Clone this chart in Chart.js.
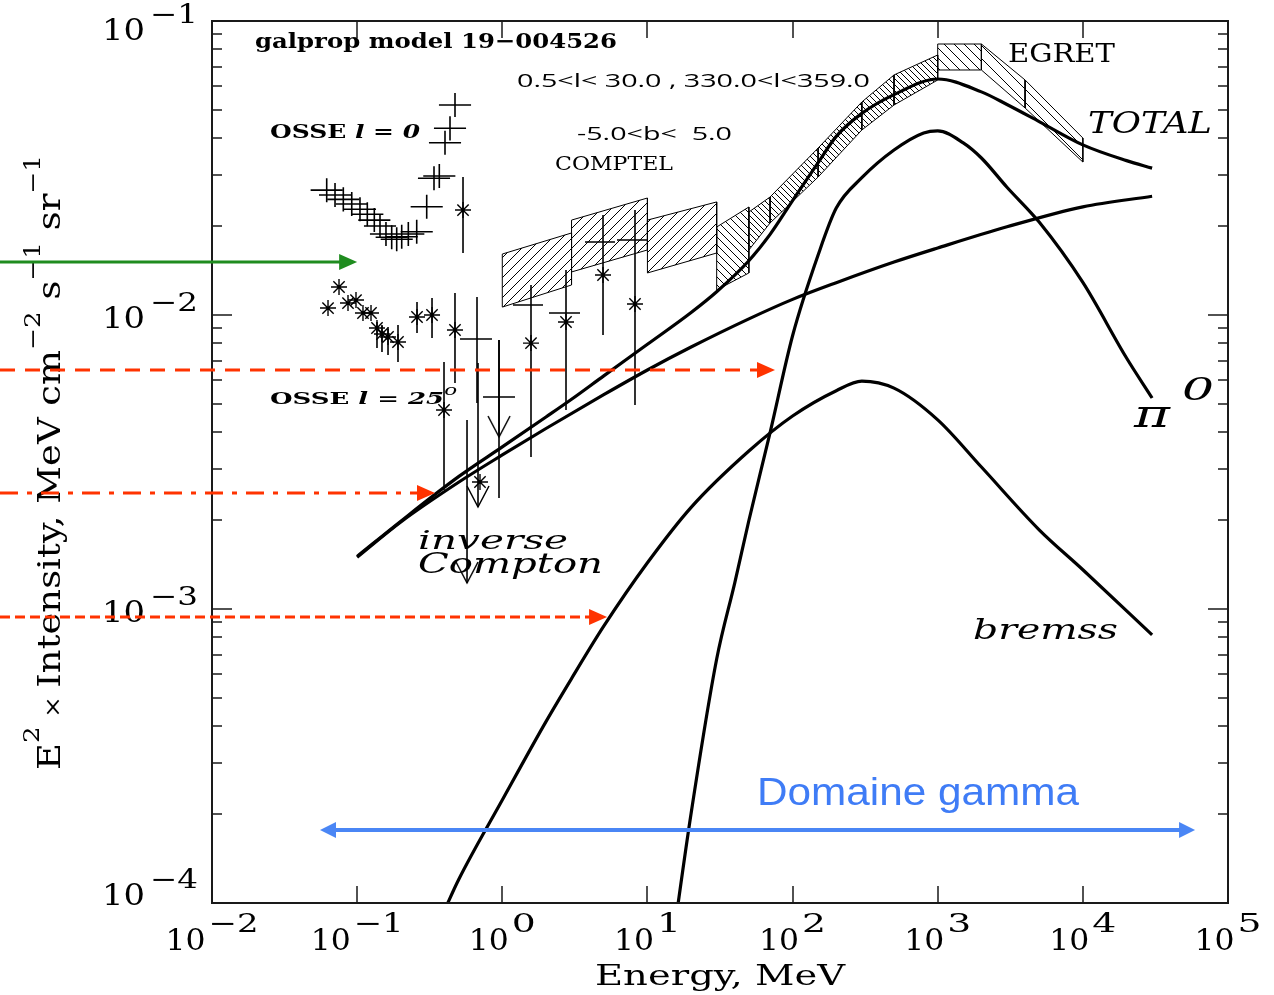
<!DOCTYPE html>
<html>
<head>
<meta charset="utf-8">
<script src="https://cdn.jsdelivr.net/npm/chart.js@4.4.1/dist/chart.umd.min.js"></script>
<style>
  html, body { margin: 0; padding: 0; background: #fff; overflow: hidden; }
  canvas { display: block; }
</style>
</head>
<body>
<canvas id="c" width="1274" height="995"></canvas>
<script>
// Energies in MeV, fluxes as E^2 x intensity in MeV cm^-2 s^-1 sr^-1.

// ---- galprop model components ----
const totalE = [0.1, 0.2, 0.5, 1, 2, 3, 5, 10, 20, 30, 50, 70, 100, 150, 200, 300, 500, 1000, 2000, 3000, 5000, 10000, 20000, 30000];
const totalI = [1.51e-3, 1.99e-3, 2.82e-3, 3.56e-3, 4.5e-3, 5.17e-3, 6.21e-3, 7.95e-3, 1.02e-2, 1.2e-2, 1.53e-2, 1.88e-2, 2.45e-2, 3.3e-2, 4.05e-2, 4.85e-2, 5.62e-2, 6.35e-2, 5.74e-2, 5.2e-2, 4.55e-2, 3.79e-2, 3.35e-2, 3.16e-2];

const icE = [0.1, 0.2, 0.5, 1, 2, 5, 10, 20, 50, 100, 200, 500, 1000, 3000, 10000, 30000];
const icI = [1.5e-3, 1.977e-3, 2.698e-3, 3.342e-3, 4.111e-3, 5.358e-3, 6.501e-3, 7.78e-3, 9.7e-3, 1.13e-2, 1.288e-2, 1.514e-2, 1.69e-2, 1.995e-2, 2.333e-2, 2.535e-2];

const pi0E = [15, 20, 30, 40, 50, 70, 100, 150, 200, 300, 500, 800, 1000, 1500, 2000, 3000, 5000, 10000, 20000, 30000];
const pi0I = [7.5e-5, 2.02e-4, 6.76e-4, 1.23e-3, 2.0e-3, 3.98e-3, 8.5e-3, 1.6e-2, 2.31e-2, 2.93e-2, 3.64e-2, 4.16e-2, 4.23e-2, 3.85e-2, 3.42e-2, 2.72e-2, 2.07e-2, 1.29e-2, 7.14e-3, 5.22e-3];

const bremE = [0.4, 0.5, 1, 2, 3, 5, 10, 20, 50, 100, 200, 300, 500, 1000, 2000, 5000, 10000, 30000];
const bremI = [9.46e-5, 1.2e-4, 2.24e-4, 4.14e-4, 5.8e-4, 8.74e-4, 1.436e-3, 2.217e-3, 3.447e-3, 4.534e-3, 5.527e-3, 5.96e-3, 5.64e-3, 4.4e-3, 3.04e-3, 1.86e-3, 1.36e-3, 8.17e-4];

// ---- OSSE l = 0 spectrum (crosses: energy bin and flux error) ----
const osse0E   = [0.0617, 0.0704, 0.0803, 0.0918, 0.1046, 0.1175, 0.1313, 0.1437, 0.158, 0.173, 0.1873, 0.2028, 0.2252, 0.2573, 0.3015, 0.3385, 0.3682, 0.403, 0.4363, 0.4723];
const osse0ELo = [0.0478, 0.0546, 0.0622, 0.0712, 0.0811, 0.0911, 0.1018, 0.1114, 0.1225, 0.1341, 0.1452, 0.1572, 0.1746, 0.1995, 0.2337, 0.2624, 0.2854, 0.3124, 0.3382, 0.3661];
const osse0EHi = [0.0796, 0.0908, 0.1036, 0.1184, 0.1349, 0.1516, 0.1694, 0.1854, 0.2038, 0.2232, 0.2416, 0.2616, 0.2905, 0.3319, 0.3889, 0.4367, 0.475, 0.5199, 0.5628, 0.6093];
const osse0I   = [0.0266, 0.0256, 0.02474, 0.02385, 0.02288, 0.02201, 0.02103, 0.02008, 0.01886, 0.01838, 0.01809, 0.01846, 0.01886, 0.0192, 0.02335, 0.02917, 0.02971, 0.03855, 0.04315, 0.05179];
const osse0ILo = [0.0242, 0.0233, 0.02251, 0.0217, 0.02082, 0.02003, 0.01914, 0.01827, 0.01716, 0.01672, 0.01646, 0.0168, 0.01716, 0.01747, 0.02125, 0.02654, 0.02703, 0.03508, 0.03926, 0.04713];
const osse0IHi = [0.0292, 0.0281, 0.02719, 0.02621, 0.02514, 0.02419, 0.02311, 0.02207, 0.02073, 0.0202, 0.01988, 0.02029, 0.02073, 0.0211, 0.02566, 0.03206, 0.03265, 0.04237, 0.04742, 0.05692];

// ---- OSSE l = 25 and COMPTEL-range points (asterisks with flux errors) ----
const starE   = [0.075, 0.063, 0.0865, 0.0982, 0.1097, 0.1246, 0.137, 0.1483, 0.1632, 0.1912, 0.2585, 0.328, 0.4722, 0.3967, 0.5363, 0.7022, 1.577, 2.748, 4.943, 8.21];
const starI   = [0.01245, 0.01056, 0.01098, 0.01124, 0.01016, 0.01016, 0.009033, 0.008618, 0.008418, 0.008094, 0.009845, 0.01, 0.008892, 0.004752, 0.02275, 0.002704, 0.008026, 0.009467, 0.01368, 0.0109];
const starILo = [0.01245, 0.01056, 0.01098, 0.01124, 0.01016, 0.01016, 0.007722, 0.007482, 0.007311, 0.006921, 0.008685, 0.008353, 0.005872, 0.00254, 0.01625, 0.002704, 0.003289, 0.004752, 0.008551, 0.004942];
const starIHi = [0.01245, 0.01056, 0.01098, 0.01124, 0.01016, 0.01016, 0.009467, 0.009248, 0.009103, 0.009248, 0.01107, 0.01142, 0.01188, 0.006921, 0.02946, 0.002704, 0.01265, 0.01422, 0.02188, 0.02275];

// ---- binned points (crosses) ----
const crossE   = [0.6696, 0.9493, 1.528, 2.748, 4.943, 7.956];
const crossELo = [0.5114, 0.7366, 1.185, 2.098, 3.714, 6.17];
const crossEHi = [0.8494, 1.2232, 1.909, 3.432, 5.977, 9.93];
const crossI   = [0.008285, 0.005262, 0.01081, 0.01016, 0.01771, 0.01799];
const crossILo = [0.005021, 0.002385, 0.01081, 0.01016, 0.01771, 0.01799];
const crossIHi = [0.01151, 0.008222, 0.01081, 0.01016, 0.01771, 0.01799];

// ---- upper limits ----
const ulE   = [0.5715, 0.6803, 0.9493];
const ulTop = [0.004394, 0.006867, 0.008222];
const ulTip = [0.001226, 0.002223, 0.003846];

// ---- COMPTEL / EGRET flux bands (hatched boxes) ----
const bandELo  = [1, 3, 10, 30, 50, 70, 150, 300, 500, 1000, 2000, 4000];
const bandEHi  = [3, 10, 30, 50, 70, 150, 300, 500, 1000, 2000, 4000, 10000];
const bandTopL = [0.01612, 0.02103, 0.02103, 0.01992, 0.0224, 0.0252, 0.03698, 0.05302, 0.06553, 0.08351, 0.08351, 0.063];
const bandTopR = [0.01901, 0.025, 0.02424, 0.0233, 0.0252, 0.03698, 0.05302, 0.06553, 0.07663, 0.08351, 0.063, 0.04];
const bandBotL = [0.01064, 0.01401, 0.0139, 0.01217, 0.01664, 0.02056, 0.02947, 0.04258, 0.05179, 0.06813, 0.06813, 0.05059];
const bandBotR = [0.01265, 0.01664, 0.01625, 0.0139, 0.02056, 0.02947, 0.04258, 0.05179, 0.063, 0.06813, 0.05059, 0.03314];
// hatch direction and spacing per band (style only)
const bandHatch = ['/', '/', '/', '\\', '\\', '\\', '\\', '\\', '\\', '\\', '\\', '\\'];
const bandStep  = [10, 10, 10, 8, 6, 6, 6, 6, 6, 10, 13, 13];

// ---- pointer arrows (flux level, energy at arrow tip) ----
const arrowLevel = [0.01515, 0.0065, 0.00248, 0.000939];
const arrowTipE  = [0.1, 75.7, 0.344, 5.27];
const gammaLevel = 1.77e-4;
const gammaRange = [0.0555, 59300];

// ---- axis decades ----
const xTickExp = [-2, -1, 0, 1, 2, 3, 4, 5];
const yTickExp = [-4, -3, -2, -1];

const canvas = document.getElementById('c');
const ctx0 = canvas.getContext('2d');

function hatch(dir, s) {
  const c = document.createElement('canvas');
  c.width = s; c.height = s;
  const g = c.getContext('2d');
  g.strokeStyle = '#000';
  g.lineWidth = 1;
  g.beginPath();
  if (dir === '/') {
    g.moveTo(0, s); g.lineTo(s, 0);
    g.moveTo(-2, 2); g.lineTo(2, -2);
    g.moveTo(s - 2, s + 2); g.lineTo(s + 2, s - 2);
  } else {
    g.moveTo(0, 0); g.lineTo(s, s);
    g.moveTo(s - 2, -2); g.lineTo(s + 2, 2);
    g.moveTo(-2, s - 2); g.lineTo(2, s + 2);
  }
  g.stroke();
  return ctx0.createPattern(c, 'repeat');
}

function vMarker() {
  const c = document.createElement('canvas');
  c.width = 26; c.height = 46;
  const g = c.getContext('2d');
  g.strokeStyle = '#000';
  g.lineWidth = 1.5;
  g.beginPath();
  g.moveTo(2, 2); g.lineTo(13, 23); g.lineTo(24, 2);
  g.stroke();
  return c;
}

const pts = (E, I) => E.map((e, i) => ({ x: e, y: I[i] }));
function vbars(E, lo, hi) {
  const d = [];
  E.forEach((e, i) => { d.push({ x: e, y: lo[i] }, { x: e, y: hi[i] }, { x: e, y: null }); });
  return d;
}
function hbars(lo, hi, I) {
  const d = [];
  lo.forEach((e, i) => { d.push({ x: e, y: I[i] }, { x: hi[i], y: I[i] }, { x: hi[i], y: null }); });
  return d;
}

const datasets = [];

bandELo.forEach((lo, i) => {
  datasets.push({
    data: [
      { x: lo, y: bandBotL[i] }, { x: lo, y: bandTopL[i] },
      { x: bandEHi[i], y: bandTopR[i] }, { x: bandEHi[i], y: bandBotR[i] },
      { x: lo, y: bandBotL[i] }
    ],
    borderColor: '#000', borderWidth: 1,
    backgroundColor: hatch(bandHatch[i], bandStep[i]),
    fill: 'shape', pointRadius: 0, tension: 0, order: 10
  });
});

const barStyle = { borderColor: '#000', borderWidth: 1.6, pointRadius: 0, fill: false, tension: 0, spanGaps: false, order: 5 };
datasets.push({ ...barStyle, data: vbars(osse0E, osse0ILo, osse0IHi) });
datasets.push({ ...barStyle, data: hbars(osse0ELo, osse0EHi, osse0I) });
datasets.push({ ...barStyle, data: vbars(starE, starILo, starIHi) });
datasets.push({ ...barStyle, data: vbars(crossE, crossILo, crossIHi) });
datasets.push({ ...barStyle, data: hbars(crossELo, crossEHi, crossI) });
datasets.push({ ...barStyle, data: vbars(ulE, ulTip, ulTop) });

datasets.push({
  data: pts(starE, starI), showLine: false, pointStyle: 'star', pointRadius: 8,
  pointBorderColor: '#000', pointBackgroundColor: '#000', pointBorderWidth: 1.4, order: 4
});
datasets.push({
  data: pts(ulE, ulTip), showLine: false, pointStyle: vMarker(), pointRadius: 10, order: 4
});

[[totalE, totalI], [icE, icI], [pi0E, pi0I], [bremE, bremI]].forEach(([E, I]) => {
  datasets.push({
    data: pts(E, I), borderColor: '#000', borderWidth: 3.2, pointRadius: 0,
    fill: false, cubicInterpolationMode: 'monotone', order: 1
  });
});

// ---- text helpers ----
function rich(ctx, runs, x, y, w) {
  ctx.save();
  let total = 0;
  runs.forEach(r => { ctx.font = r.font; r.w = ctx.measureText(r.t).width; total += r.w; });
  const sx = w ? w / total : 1;
  ctx.translate(x, y);
  ctx.scale(sx, 1);
  ctx.textBaseline = 'alphabetic';
  ctx.textAlign = 'left';
  let cx = 0;
  runs.forEach(r => {
    ctx.font = r.font;
    ctx.fillStyle = r.color || ctx.fillStyle;
    ctx.fillText(r.t, cx, -(r.dy || 0));
    cx += r.w;
  });
  ctx.restore();
}

function arrow(ctx, x0, x1, y, color, dash, lw, hl, hw, both) {
  ctx.save();
  ctx.strokeStyle = color; ctx.fillStyle = color; ctx.lineWidth = lw;
  ctx.setLineDash(dash);
  ctx.beginPath();
  ctx.moveTo(both ? x0 + hl - 2 : x0, y);
  ctx.lineTo(x1 - hl + 2, y);
  ctx.stroke();
  ctx.setLineDash([]);
  ctx.beginPath();
  ctx.moveTo(x1, y); ctx.lineTo(x1 - hl, y - hw); ctx.lineTo(x1 - hl, y + hw); ctx.closePath();
  ctx.fill();
  if (both) {
    ctx.beginPath();
    ctx.moveTo(x0, y); ctx.lineTo(x0 + hl, y - hw); ctx.lineTo(x0 + hl, y + hw); ctx.closePath();
    ctx.fill();
  }
  ctx.restore();
}

const SERIF = '"DejaVu Serif", "Liberation Serif", serif';
const THIN = '"Open Sans", "Lato", "DejaVu Sans", sans-serif';
const yLabelShift = { '-1': 19, '-2': 13, '-3': 13, '-4': 2 };

const notes = [
  { x: 255, y: 48, w: 362, runs: [{ t: 'galprop model 19\u2212004526', font: 'bold 21px ' + SERIF }] },
  { x: 517, y: 87, w: 353, runs: [{ t: '0.5<l< 30.0 , 330.0<l<359.0', font: '19px ' + THIN }] },
  { x: 577, y: 140, w: 155, runs: [{ t: '-5.0<b<  5.0', font: '19px ' + THIN }] },
  { x: 555, y: 170, w: 118, runs: [{ t: 'COMPTEL', font: '18px ' + SERIF }] },
  { x: 270, y: 138, w: 150, runs: [
      { t: 'OSSE ', font: 'bold 18px ' + SERIF }, { t: 'l', font: 'italic bold 18px ' + SERIF },
      { t: ' = ', font: 'bold 18px ' + SERIF }, { t: '0', font: 'italic bold 18px ' + SERIF }] },
  { x: 270, y: 404, w: 187, runs: [
      { t: 'OSSE ', font: 'bold 17px ' + SERIF }, { t: 'l', font: 'italic bold 17px ' + SERIF },
      { t: ' = ', font: 'bold 17px ' + SERIF }, { t: '25', font: 'italic bold 17px ' + SERIF },
      { t: 'o', font: 'italic 14px ' + SERIF, dy: 9 }] },
  { x: 1008, y: 62, w: 107, runs: [{ t: 'EGRET', font: '26px ' + SERIF }] },
  { x: 1088, y: 133, w: 124, runs: [{ t: 'TOTAL', font: 'italic 29px ' + SERIF }] },
  { x: 1134, y: 427, w: 36, runs: [{ t: '\u03c0', font: 'italic 40px ' + SERIF }] },
  { x: 1182, y: 400, w: 32, runs: [{ t: '0', font: 'italic 32px ' + SERIF }] },
  { x: 418, y: 549, w: 150, runs: [{ t: 'inverse', font: 'italic 26px ' + SERIF }] },
  { x: 418, y: 573, w: 185, runs: [{ t: 'Compton', font: 'italic 27px ' + SERIF }] },
  { x: 973, y: 639, w: 145, runs: [{ t: 'bremss', font: 'italic 28px ' + SERIF }] },
  { x: 757, y: 805, w: 322, runs: [{ t: 'Domaine gamma', font: '38px "Liberation Sans", Arial, sans-serif', color: '#3f7cf6' }] }
];

const framePlugin = {
  id: 'frame',
  afterDraw(chart) {
    const ctx = chart.ctx;
    const a = chart.chartArea;
    const xs = chart.scales.x, ys = chart.scales.y;
    ctx.save();

    // frame and ticks
    ctx.strokeStyle = '#1a1a1a';
    ctx.lineWidth = 2;
    ctx.strokeRect(a.left, a.top, a.right - a.left, a.bottom - a.top);
    ctx.lineWidth = 1.5;
    ctx.beginPath();
    xTickExp.forEach(e => {
      const px = Math.round(xs.getPixelForValue(Math.pow(10, e)));
      ctx.moveTo(px, a.bottom); ctx.lineTo(px, a.bottom - 17);
      ctx.moveTo(px, a.top); ctx.lineTo(px, a.top + 17);
    });
    yTickExp.forEach((e, j) => {
      const last = j === yTickExp.length - 1;
      for (let k = 1; k <= (last ? 1 : 9); k++) {
        const py = Math.round(ys.getPixelForValue(k * Math.pow(10, e)));
        const len = k === 1 ? 20 : 10;
        ctx.moveTo(a.left, py); ctx.lineTo(a.left + len, py);
        ctx.moveTo(a.right, py); ctx.lineTo(a.right - len, py);
      }
    });
    ctx.stroke();

    // tick labels
    ctx.fillStyle = '#000';
    xTickExp.forEach(e => {
      const px = xs.getPixelForValue(Math.pow(10, e));
      const ex = e < 0 ? '\u2212' + (-e) : String(e);
      const ew = e < 0 ? 50 : 24;
      const total = 40 + 3 + ew;
      const left = px - total / 2;
      rich(ctx, [{ t: '10', font: '29px ' + SERIF }], left, 950, 40);
      rich(ctx, [{ t: ex, font: '26px ' + SERIF }], left + 43, 932, ew);
    });
    yTickExp.forEach(e => {
      const py = ys.getPixelForValue(Math.pow(10, e));
      const base = py + yLabelShift[String(e)];
      rich(ctx, [{ t: '10', font: '29px ' + SERIF }], 102, base, 43);
      rich(ctx, [{ t: '\u2212' + (-e), font: '26px ' + SERIF }], 150, base - 17, 48);
    });

    // axis titles
    rich(ctx, [{ t: 'Energy, MeV', font: '27px ' + SERIF }], 595, 985, 250);
    ctx.save();
    ctx.translate(60, 770);
    ctx.rotate(-Math.PI / 2);
    const F = '31px ' + SERIF, S = '22px ' + SERIF;
    rich(ctx, [
      { t: 'E', font: F }, { t: '2', font: S, dy: 21 }, { t: ' \u00d7 ', font: '22px ' + SERIF },
      { t: 'Intensity, MeV cm', font: F }, { t: '\u22122', font: S, dy: 20 },
      { t: ' s', font: F }, { t: '\u22121', font: S, dy: 20 },
      { t: ' sr', font: F }, { t: '\u22121', font: S, dy: 20 }
    ], 0, 0, 615);
    ctx.restore();

    // annotations inside the frame
    notes.forEach(n => { ctx.fillStyle = '#000'; rich(ctx, n.runs, n.x, n.y, n.w); });

    // pointer arrows
    const red = '#ff3300';
    const styles = [
      { color: '#1f8c1f', dash: [] },
      { color: red, dash: [15, 10] },
      { color: red, dash: [18, 9, 5, 9] },
      { color: red, dash: [10, 5] }
    ];
    arrowLevel.forEach((lv, i) => {
      const py = Math.round(ys.getPixelForValue(lv));
      const px = xs.getPixelForValue(arrowTipE[i]);
      arrow(ctx, 0, px, py, styles[i].color, styles[i].dash, 3, 18, 8, false);
    });
    const gy = Math.round(ys.getPixelForValue(gammaLevel));
    arrow(ctx, xs.getPixelForValue(gammaRange[0]), xs.getPixelForValue(gammaRange[1]), gy, '#4a86f5', [], 4, 16, 8, true);

    ctx.restore();
  }
};

new Chart(ctx0, {
  type: 'line',
  data: { datasets },
  options: {
    responsive: false,
    animation: false,
    devicePixelRatio: 1,
    events: [],
    layout: { padding: { left: 212, right: 46, top: 21, bottom: 92 } },
    scales: {
      x: { type: 'logarithmic', min: 0.01, max: 1e5, display: false },
      y: { type: 'logarithmic', min: 1e-4, max: 0.1, display: false }
    },
    plugins: { legend: { display: false }, tooltip: { enabled: false } }
  },
  plugins: [framePlugin]
});
</script>
</body>
</html>
